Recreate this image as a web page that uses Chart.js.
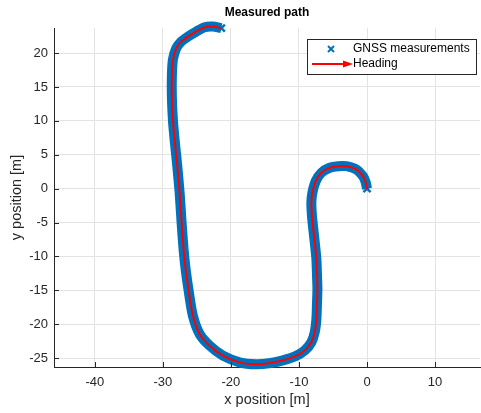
<!DOCTYPE html>
<html>
<head>
<meta charset="utf-8">
<script src="https://cdn.jsdelivr.net/npm/chart.js@4.4.0/dist/chart.umd.min.js"></script>
<style>
  html, body { margin: 0; padding: 0; background: #fff; }
  #wrap { width: 481px; height: 413px; }
</style>
</head>
<body>
<div id="wrap"><canvas id="graf" width="481" height="413"></canvas></div>
<script>
const pathX = [0, -0.2, -0.6, -1.56, -3.03, -4.26, -5.49, -6.71, -7.54, -8.03, -8.18, -8.09, -7.84, -7.58,
  -7.44, -7.35, -7.29, -7.35, -7.44, -7.69, -8.18, -9.16, -10.5, -12.5, -14.4, -16.3, -18.6, -21.18,
  -23.13, -24.6, -25.59, -26.18, -26.66, -26.96, -27.25, -27.54, -27.9, -28.28, -28.53, -28.68, -28.68,
  -28.53, -28.03, -27.29, -26.32, -25.09, -23.87, -22.65, -21.41];
const pathY = [0, 0.95, 1.85, 2.84, 3.32, 3.32, 3.09, 2.35, 1.12, -0.59, -2.06, -4.03, -6.47, -8.9,
  -10.4, -12.85, -14.81, -16.76, -19.22, -21.18, -22.65, -23.88, -24.7, -25.35, -25.75, -25.9, -25.65, -24.62,
  -23.15, -21.43, -18.74, -15.29, -11.87, -8.93, -5, -0.59, 3.5, 7.25, 10.19, 13.62, 16.56,
  19.01, 20.74, 21.71, 22.44, 23.18, 23.82, 23.91, 23.68];

const xTicks = [-40, -30, -20, -10, 0, 10];
const yTicks = [-25, -20, -15, -10, -5, 0, 5, 10, 15, 20];
const xLimits = [-46, 16.6];
const yLimits = [-26.3, 23.7];
const seriesNames = ['GNSS measurements', 'Heading'];

const FONTE = "'Liberation Sans', Arial, Helvetica, sans-serif";
const AZUL = '#0072BD';
const VERMELHO = '#ff0000';
const EIXO = '#262626';

const pontos = pathX.map((x, i) => ({ x: x, y: pathY[i] }));

// marcas dos ticks para dentro, estilo matlab
const ticksDentro = {
  id: 'ticksDentro',
  afterDatasetsDraw(chart) {
    const { ctx, chartArea: a, scales } = chart;
    ctx.save();
    ctx.strokeStyle = EIXO;
    ctx.lineWidth = 1;
    ctx.beginPath();
    xTicks.forEach(v => {
      const px = Math.round(scales.x.getPixelForValue(v)) + 0.5;
      ctx.moveTo(px, a.bottom);
      ctx.lineTo(px, a.bottom - 5);
    });
    yTicks.forEach(v => {
      const py = Math.round(scales.y.getPixelForValue(v)) + 0.5;
      ctx.moveTo(a.left, py);
      ctx.lineTo(a.left + 5, py);
    });
    ctx.stroke();
    ctx.restore();
  }
};

// legenda dentro do grafico, canto superior direito
const legendaBox = {
  id: 'legendaBox',
  afterDraw(chart) {
    const { ctx, chartArea: a } = chart;
    const bx = a.right - 173, by = a.top + 11, bw = 169, bh = 35;
    ctx.save();
    ctx.fillStyle = '#fff';
    ctx.fillRect(bx, by, bw, bh);
    ctx.strokeStyle = EIXO;
    ctx.lineWidth = 1;
    ctx.strokeRect(bx + 0.5, by + 0.5, bw, bh);

    // marcador x
    const mx = bx + 24, my = by + 10;
    ctx.strokeStyle = AZUL;
    ctx.lineWidth = 2;
    ctx.beginPath();
    ctx.moveTo(mx - 3, my - 3); ctx.lineTo(mx + 3, my + 3);
    ctx.moveTo(mx + 3, my - 3); ctx.lineTo(mx - 3, my + 3);
    ctx.stroke();

    // seta
    const ay = by + 25;
    ctx.strokeStyle = VERMELHO;
    ctx.fillStyle = VERMELHO;
    ctx.lineWidth = 2;
    ctx.beginPath();
    ctx.moveTo(bx + 5, ay); ctx.lineTo(bx + 38, ay);
    ctx.stroke();
    ctx.beginPath();
    ctx.moveTo(bx + 46, ay); ctx.lineTo(bx + 36, ay - 3.5); ctx.lineTo(bx + 36, ay + 3.5);
    ctx.closePath();
    ctx.fill();

    ctx.fillStyle = '#000';
    ctx.font = '12px ' + FONTE;
    ctx.textBaseline = 'middle';
    ctx.fillText(seriesNames[0], bx + 46, my);
    ctx.fillText(seriesNames[1], bx + 46, ay);
    ctx.restore();
  }
};

const ultimo = pontos.length - 1;

new Chart(document.getElementById('graf').getContext('2d'), {
  type: 'scatter',
  data: {
    datasets: [{
      label: seriesNames[0],
      data: pontos,
      order: 1,
      showLine: true,
      borderColor: AZUL,
      backgroundColor: AZUL,
      borderWidth: 10,
      tension: 0.25,
      pointStyle: 'crossRot',
      pointRadius: ctx => (ctx.dataIndex === 0 || ctx.dataIndex === ultimo) ? 5 : 0,
      pointBorderWidth: 2.5,
      pointBorderColor: AZUL,
      clip: false
    }, {
      label: seriesNames[1],
      data: pontos,
      order: 0,
      showLine: true,
      borderColor: VERMELHO,
      borderWidth: 2,
      tension: 0.25,
      pointRadius: 0,
      clip: false
    }]
  },
  options: {
    responsive: false,
    animation: false,
    devicePixelRatio: 1,
    layout: { autoPadding: false, padding: { top: 0, right: 1, left: 0, bottom: 0 } },
    plugins: {
      legend: { display: false },
      tooltip: { enabled: false },
      title: {
        display: true,
        text: 'Measured path',
        fullSize: false,
        color: '#000',
        font: { family: FONTE, size: 12, weight: 'bold' },
        padding: { top: 5, bottom: 8.6 }
      }
    },
    scales: {
      x: {
        type: 'linear',
        min: xLimits[0],
        max: xLimits[1],
        afterBuildTicks: s => { s.ticks = xTicks.map(v => ({ value: v })); },
        afterFit: s => { s.height = 46; s.paddingLeft = 0; s.paddingRight = 0; },
        grid: { color: '#e3e3e3', drawTicks: false },
        border: { color: EIXO, width: 1 },
        ticks: { color: EIXO, font: { family: FONTE, size: 13 }, padding: 8, maxRotation: 0 },
        title: { display: true, text: 'x position [m]', color: EIXO, font: { family: FONTE, size: 14.5 }, padding: 4 }
      },
      y: {
        type: 'linear',
        min: yLimits[0],
        max: yLimits[1],
        afterBuildTicks: s => { s.ticks = yTicks.map(v => ({ value: v })); },
        afterFit: s => { s.width = 54; s.paddingTop = 0; s.paddingBottom = 0; },
        grid: { color: '#e3e3e3', drawTicks: false },
        border: { color: EIXO, width: 1 },
        ticks: { color: EIXO, font: { family: FONTE, size: 13 }, padding: 6 },
        title: { display: true, text: 'y position [m]', color: EIXO, font: { family: FONTE, size: 14.5 }, padding: 8 }
      }
    }
  },
  plugins: [ticksDentro, legendaBox]
});
</script>
</body>
</html>
